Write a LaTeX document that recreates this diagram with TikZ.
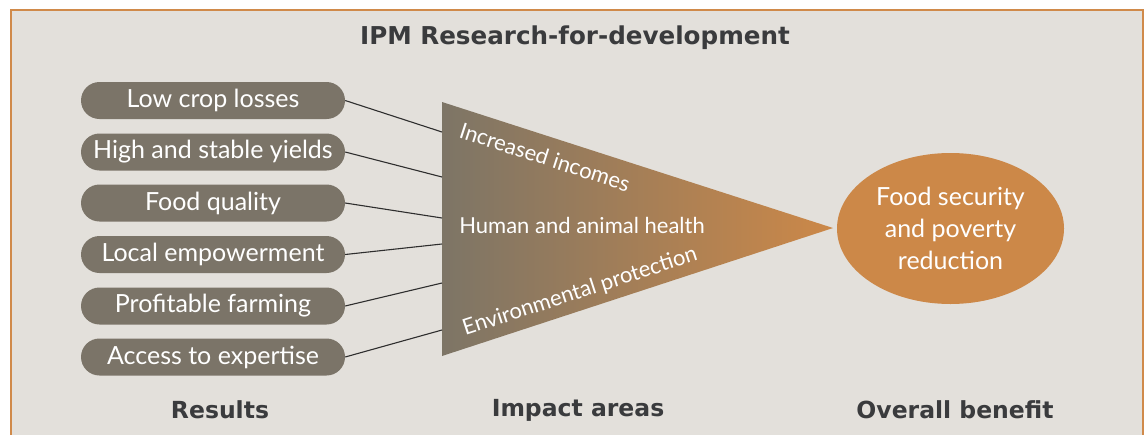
\documentclass[tikz,border=0pt]{standalone}
\usepackage{fontspec}
\setmainfont{Lato}
\newfontfamily\headfont{DejaVu Sans}
\usetikzlibrary{shapes.geometric}
\definecolor{panel}{HTML}{E3E0DB}
\definecolor{frameor}{HTML}{D08A4A}
\definecolor{pill}{HTML}{7B7468}
\definecolor{darkgrey}{HTML}{7D7566}
\definecolor{orangefill}{HTML}{CC8848}
\definecolor{heading}{HTML}{3A3B3D}
\definecolor{linkline}{HTML}{2E2E2E}
\begin{document}
\begin{tikzpicture}[x=1pt,y=-1pt,
  result/.style={fill=pill, draw=none, text=white, rounded corners=18.5pt,
    minimum width=264pt, minimum height=37pt, inner sep=0pt,
    font=\fontsize{25}{30}\selectfont},
  link/.style={draw=linkline, line width=1.1pt},
  heading/.style={text=heading, font=\headfont\fontsize{23.5}{28}\selectfont\bfseries},
  impact/.style={text=white, font=\fontsize{22}{26}\selectfont, inner sep=0pt},
  benefit/.style={ellipse, fill=orangefill, text=white, minimum width=227pt,
    minimum height=151pt, inner sep=0pt, align=center,
    font=\fontsize{25}{32}\selectfont}]
  \useasboundingbox (0,0) rectangle (1147,434);
  \fill[white] (0,0) rectangle (1147,434);
  % framed panel, running past the lower edge
  \draw[fill=panel, draw=frameor, line width=2.5pt] (11,10) rectangle (1143,450);

  % title
  \node[heading, font=\headfont\fontsize{24.6}{29}\selectfont\bfseries] (title) at (575,38) {IPM Research-for-development};

  % results
  \node[result] (r1) at (213,100.5) {Low crop losses};
  \node[result] (r2) at (213,152) {High and stable yields};
  \node[result] (r3) at (213,203) {Food quality};
  \node[result] (r4) at (213,254.5) {Local empowerment};
  \node[result] (r5) at (213,306) {Profitable farming};
  \node[result] (r6) at (213,357) {Access to expertise};

  % impact triangle
  \coordinate (ta) at (442,102);
  \coordinate (tb) at (442,356);
  \coordinate (tip) at (833,228);
  \shade[left color=darkgrey, right color=orangefill] (ta) -- (tip) -- (tb) -- cycle;

  \coordinate (e1) at (442,132);
  \coordinate (e2) at (442,177);
  \coordinate (e3) at (442,218);
  \coordinate (e4) at (442,244);
  \coordinate (e5) at (442,283);
  \coordinate (e6) at (442,330);
  \foreach \i in {1,...,6} \draw[link] (r\i.east) -- (e\i);

  \node[impact, rotate=-18] (inc) at (545,157) {Increased incomes};
  \node[impact] (hea) at (582,225) {Human and animal health};
  \node[impact, rotate=18] (env) at (580,292) {Environmental protection};

  % overall benefit
  \node[benefit] (food) at (950.5,228.5) {Food security\\and poverty\\reduction};

  % column headings
  \node[heading] (hres) at (220,410) {Results};
  \node[heading] (himp) at (578,410) {Impact areas};
  \node[heading] (hben) at (955,410) {Overall benefit};
\end{tikzpicture}
\end{document}
